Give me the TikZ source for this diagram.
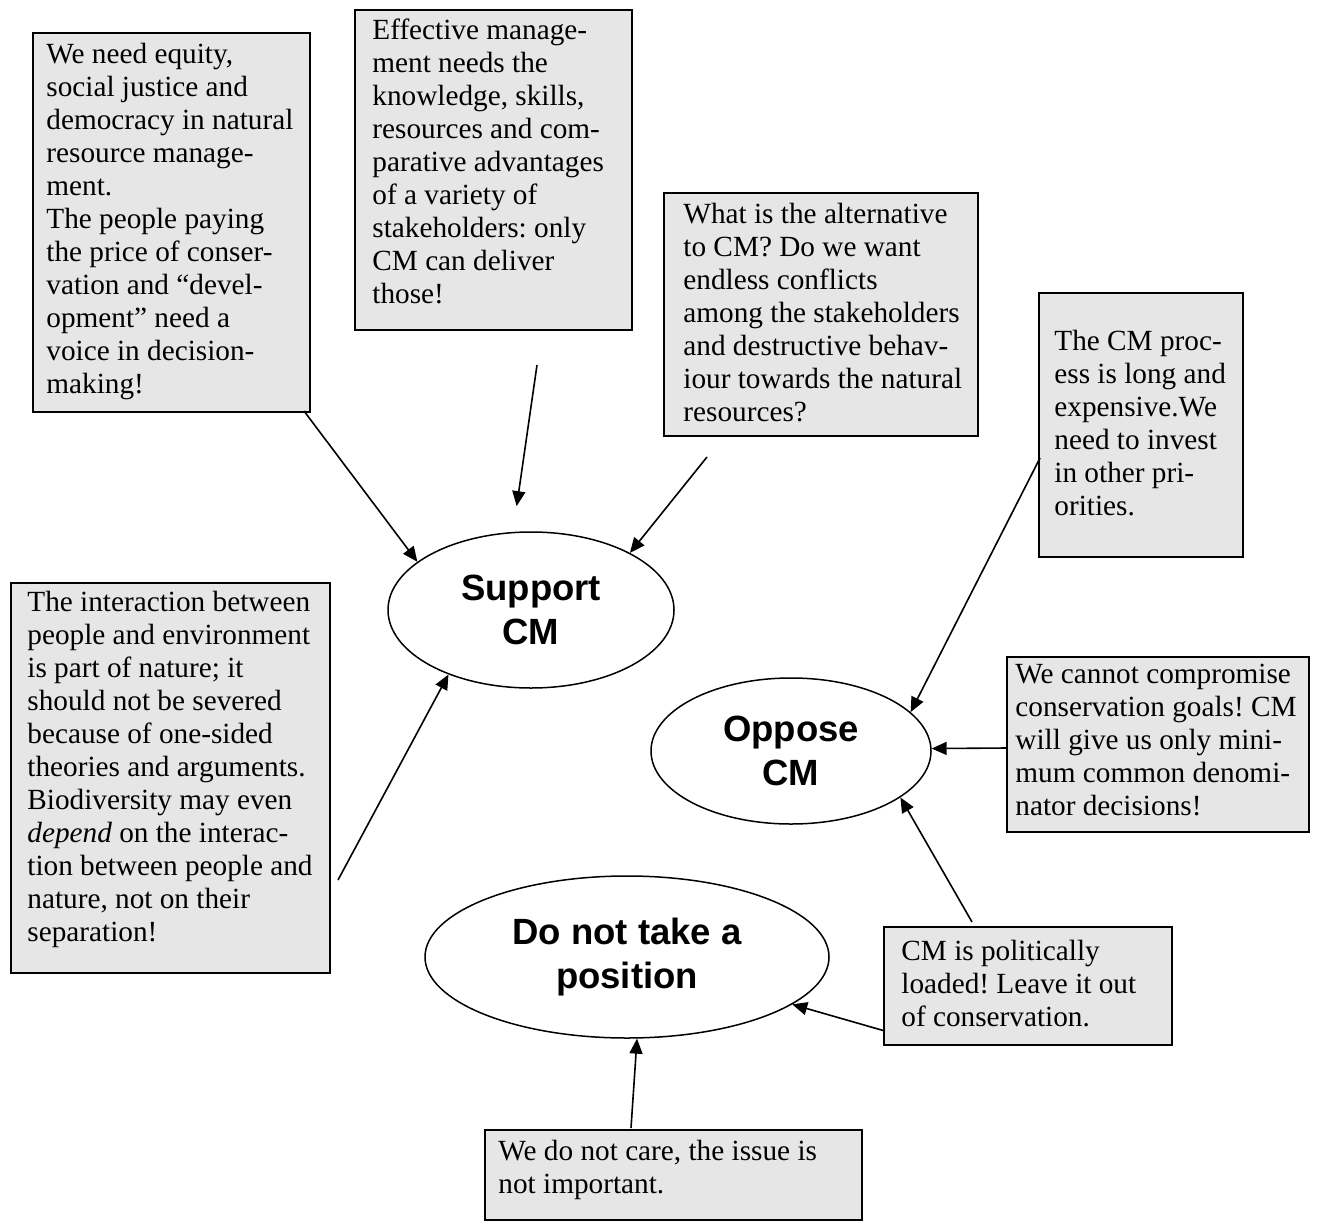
\documentclass[tikz,border=0pt]{standalone}
\usepackage{fontspec}
\setmainfont{Liberation Serif}
\newfontfamily\labelsans{Liberation Sans}
\usetikzlibrary{arrows.meta,shapes.geometric,fit}
\definecolor{notefill}{RGB}{230,230,230}
\frenchspacing
\begin{document}
\begin{tikzpicture}[x=0.5pt,y=-0.5pt,
  note/.style={draw=black, line width=1.2pt, fill=notefill, inner sep=0pt},
  % text block hung from the top of a strut on its first line
  notetext/.style={anchor=north west, align=left, inner sep=0pt,
    font=\fontsize{14.63}{16.5}\selectfont, execute at begin node=\strut},
  stance/.style={ellipse, draw=black, line width=0.75pt, inner sep=0pt,
    align=center, font=\labelsans\bfseries\fontsize{18.25}{22}\selectfont},
  arr/.style={line width=0.8pt, -{Triangle[length=7.5pt,width=6.5pt]}}]
\useasboundingbox (0,0) rectangle (1326,1225);

% argument boxes (text hung about 23 units above the first baseline)
\node[note, fit={(33,33) (310,412)}] (b1) {};
\node[notetext] (t1) at (46,43) {We need equity,\\social justice and\\democracy in natural\\resource manage-\\ment.\\The people paying\\the price of conser-\\vation and “devel-\\opment” need a\\voice in decision-\\making!};

\node[note, fit={(355,10) (632,330)}] (b2) {};
\node[notetext] (t2) at (372,18) {Effective manage-\\ment needs the\\knowledge, skills,\\resources and com-\\parative advantages\\of a variety of\\stakeholders: only\\CM can deliver\\those!};

\node[note, fit={(664,193) (978,436)}] (b3) {};
\node[notetext] (t3) at (683,203) {What is the alternative\\to CM? Do we want\\endless conflicts\\among the stakeholders\\and destructive behav-\\iour towards the natural\\resources?};

\node[note, fit={(1039,293) (1243,557)}] (b4) {};
\node[notetext] (t4) at (1054,330) {The CM proc-\\ess is long and\\expensive.We\\need to invest\\in other pri-\\orities.};

\node[note, fit={(11,583) (330,973)}] (b5) {};
\node[notetext] (t5) at (27,591) {The interaction between\\people and environment\\is part of nature; it\\should not be severed\\because of one-sided\\theories and arguments.\\Biodiversity may even\\\textit{depend} on the interac-\\tion between people and\\nature, not on their\\separation!};

\node[note, fit={(1007,657) (1309,832)}] (b6) {};
\node[notetext] (t6) at (1015,664) {We cannot compromise\\conservation goals! CM\\will give us only mini-\\mum common denomi-\\nator decisions!};

\node[note, fit={(884,927) (1172,1045)}] (b7) {};
\node[notetext] (t7) at (901,940) {CM is politically\\loaded! Leave it out\\of conservation.};

\node[note, fit={(485,1130) (862,1220)}] (b8) {};
\node[notetext] (t8) at (498,1140) {We do not care, the issue is\\not important.};

% stances
\node[stance, minimum width=143pt, minimum height=78pt] (sup) at (531,610) {Support\\CM};
\node[stance, minimum width=140pt, minimum height=73pt] (opp) at (791,751) {Oppose\\CM};
\node[stance, minimum width=202pt, minimum height=81pt] (non) at (627,957) {Do not take a\\position};

% free ends of the arrows
\coordinate (s1) at (304,411);
\coordinate (s2) at (537,365);
\coordinate (s3) at (707,457);
\coordinate (s4) at (1040,458);
\coordinate (s5) at (338,880);
\coordinate (s6) at (1007,748);
\coordinate (s7) at (972,922);
\coordinate (s8) at (885,1031);
\coordinate (s9) at (631,1128);

\draw[arr] (s1) -- (sup.157.6);
\draw[arr, shorten >=13pt] (s2) -- (sup.103.9);
\draw[arr] (s3) -- (sup.30.7);
\draw[arr] (s5) -- (sup.-142.1);
\draw[arr] (s4) -- (opp.18.2);
\draw[arr] (s6) -- (opp.1);
\draw[arr] (s7) -- (opp.-23.5);
\draw[arr] (s8) -- (non.-16);
\draw[arr] (s9) -- (non.-83.5);
\end{tikzpicture}
\end{document}
